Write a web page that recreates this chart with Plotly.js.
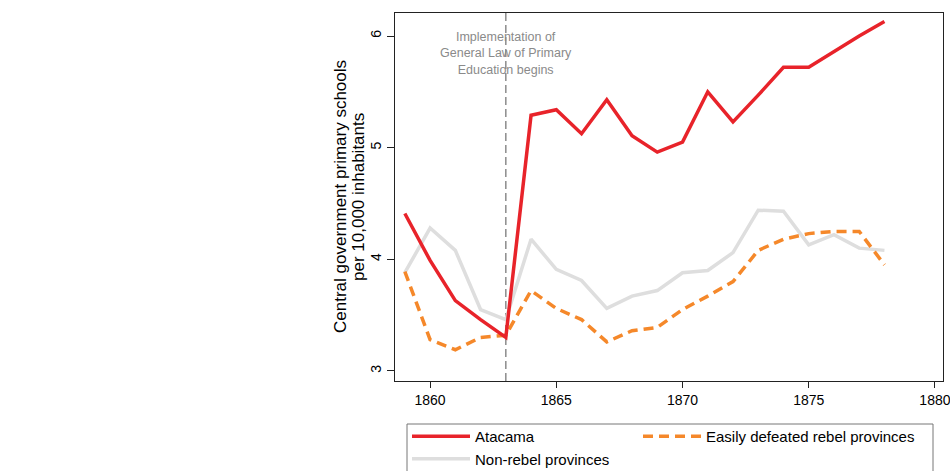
<!DOCTYPE html>
<html>
<head>
<meta charset="utf-8">
<script src="https://cdn.plot.ly/plotly-3.0.1.min.js"></script>
<style>html,body{margin:0;padding:0;background:#fff;}#chart{width:950px;height:471px;}</style>
</head>
<body>
<div id="chart"></div>
<script>
const years = [1859,1860,1861,1862,1863,1864,1865,1866,1867,1868,1869,1870,1871,1872,1873,1874,1875,1876,1877,1878];
const atacama = [4.41,3.99,3.63,3.46,3.30,5.29,5.34,5.125,5.43,5.107,4.96,5.05,5.50,5.23,5.47,5.72,5.72,5.86,6.00,6.13];
const easilyDefeated = [3.89,3.28,3.19,3.30,3.32,3.72,3.56,3.46,3.26,3.36,3.39,3.55,3.67,3.80,4.08,4.18,4.23,4.25,4.25,3.95];
const nonRebel = [3.88,4.28,4.08,3.55,3.46,4.18,3.91,3.81,3.56,3.67,3.72,3.88,3.90,4.06,4.44,4.43,4.13,4.22,4.10,4.08];
const seriesNames = ['Atacama','Easily defeated rebel provinces','Non-rebel provinces'];
const lawYear = 1863;
const lawText = 'Implementation of<br>General Law of Primary<br>Education begins';
const xTicks = [1860,1865,1870,1875,1880];
const yTicks = [3,4,5,6];
const yTitleLines = ['Central government primary schools', 'per 10,000 inhabitants'];

const FONT = 'Liberation Sans, Arial, Helvetica, sans-serif';

const traces = [
  {x: years, y: atacama, name: seriesNames[0], type: 'scatter', mode: 'lines',
   line: {color: '#e8232a', width: 3.5}, legend: 'legend', legendgroup: 'a', legendrank: 1},
  {x: years, y: easilyDefeated, name: seriesNames[1], type: 'scatter', mode: 'lines',
   line: {color: '#f5882a', width: 3.5, dash: '10px,6px'}, legend: 'legend2', legendgroup: 'b', legendrank: 1},
  {x: years, y: nonRebel, name: seriesNames[2], type: 'scatter', mode: 'lines',
   line: {color: '#dedede', width: 3.5}, legend: 'legend', legendgroup: 'c', legendrank: 2}
];
// draw order: gray behind, then orange, then red on top
const drawTraces = [traces[2], traces[1], traces[0]];

const PLOT_L = 395, PLOT_W = 548, PLOT_T = 13, PLOT_H = 368;
const px2x = px => (px - PLOT_L) / PLOT_W;
const px2y = py => 1 - (py - PLOT_T) / PLOT_H;

const legendCommon = {
  orientation: 'v', xanchor: 'left', yanchor: 'top',
  bgcolor: 'rgba(0,0,0,0)', borderwidth: 0,
  font: {size: 15, family: FONT, color: '#000'}, itemwidth: 58,
  traceorder: 'normal', tracegroupgap: 2
};

const layout = {
  width: 950, height: 471,
  margin: {l: 395, r: 7, t: 13, b: 90, autoexpand: false},
  paper_bgcolor: '#fff', plot_bgcolor: '#fff',
  font: {family: FONT, color: '#000', size: 14},
  showlegend: true,
  xaxis: {
    range: [1858.61, 1880.32], tickvals: xTicks, ticktext: xTicks.map(String),
    showgrid: false, zeroline: false, showline: true, mirror: true,
    linecolor: '#222', linewidth: 1.3, ticks: 'outside', ticklen: 6, tickcolor: '#222',
    tickfont: {size: 14, family: FONT}, ticklabeloverflow: 'allow', automargin: false
  },
  yaxis: {
    range: [2.91, 6.206], tickvals: yTicks, ticktext: yTicks.map(String),
    showgrid: false, zeroline: false, showline: true, mirror: true,
    linecolor: '#222', linewidth: 1.3, ticks: 'outside', ticklen: 7, tickcolor: '#222',
    tickangle: -90, tickfont: {size: 14, family: FONT}, automargin: false
  },
  legend: Object.assign({}, legendCommon, {x: px2x(407), y: px2y(420)}),
  legend2: Object.assign({}, legendCommon, {x: px2x(638), y: px2y(420)}),
  shapes: [
    {type: 'line', xref: 'x', yref: 'paper', x0: lawYear, x1: lawYear, y0: 0, y1: 1,
     line: {color: '#8c8c8c', width: 1.5, dash: '8px,4px'}, layer: 'below'},
    {type: 'rect', xref: 'paper', yref: 'paper', x0: px2x(407), x1: px2x(933), y0: px2y(424), y1: px2y(500),
     line: {color: '#777', width: 1}, fillcolor: 'rgba(0,0,0,0)', layer: 'above'}
  ],
  annotations: [
    {x: lawYear, xref: 'x', y: px2y(53), yref: 'paper', text: lawText, showarrow: false,
     xanchor: 'center', yanchor: 'middle', align: 'center',
     font: {size: 12.5, color: '#8a8a8a', family: FONT}},
    {x: px2x(340), xref: 'paper', y: 0.5, yref: 'paper', text: yTitleLines[0], showarrow: false,
     textangle: -90, xanchor: 'center', yanchor: 'middle', font: {size: 17, family: FONT, color: '#000'}},
    {x: px2x(358), xref: 'paper', y: 0.5, yref: 'paper', text: yTitleLines[1], showarrow: false,
     textangle: -90, xanchor: 'center', yanchor: 'middle', font: {size: 17, family: FONT, color: '#000'}}
  ]
};

Plotly.newPlot('chart', drawTraces, layout, {staticPlot: true, displayModeBar: false});
</script>
</body>
</html>
